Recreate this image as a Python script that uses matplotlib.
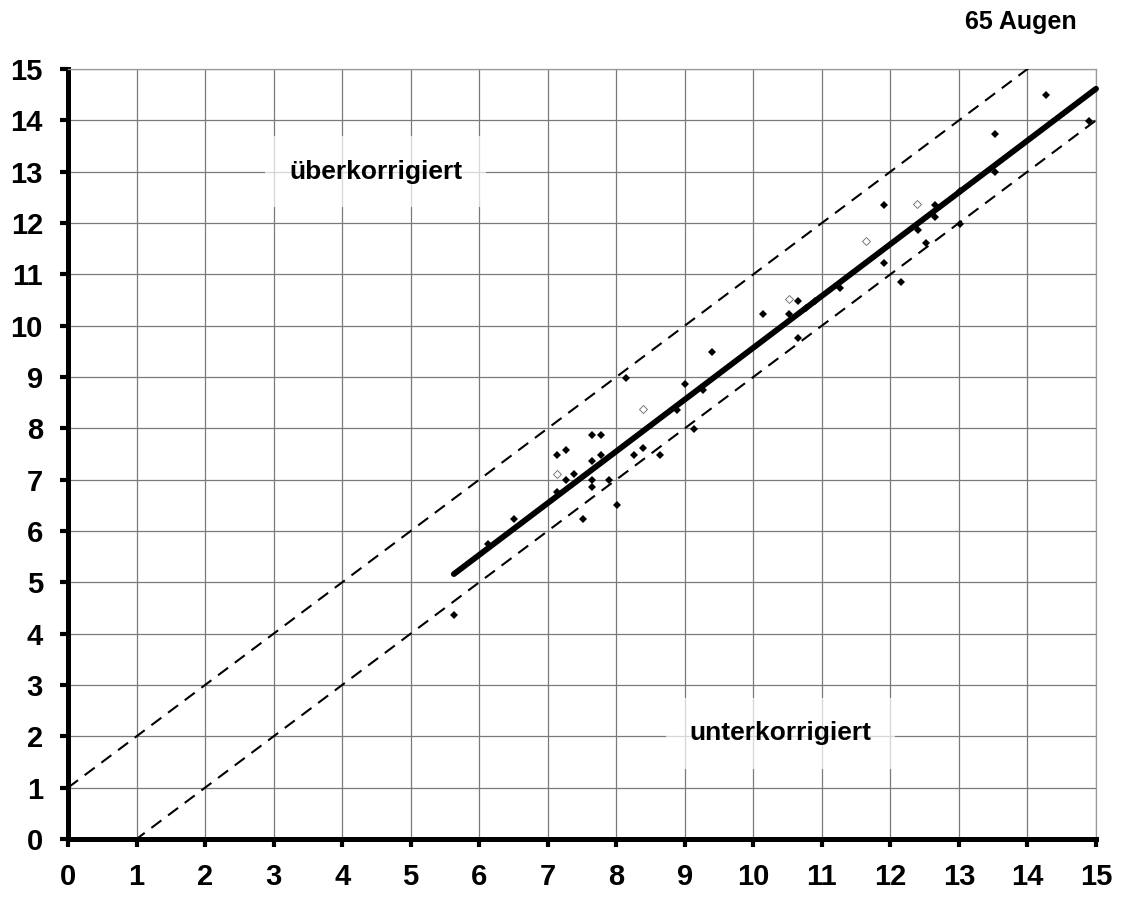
import matplotlib
matplotlib.use('Agg')
from matplotlib import pyplot as plt
import numpy as np

plt.rcParams['font.family'] = ['Liberation Sans', 'DejaVu Sans']
plt.rcParams['font.weight'] = 'bold'

# measured eyes: x = planned correction, y = achieved correction
x_solid = [5.63, 6.13, 6.51, 7.13, 7.26, 7.39, 7.14, 7.27, 7.51, 7.64, 7.77, 7.64,
           7.77, 7.64, 7.64, 7.89, 8.01, 8.14, 8.26, 8.39, 8.64, 8.88, 9.01, 9.14,
           9.26, 9.39, 10.14, 10.52, 10.65, 10.65, 10.77, 10.90, 11.27, 11.90, 11.90,
           12.15, 12.65, 12.40, 12.65, 12.52, 13.02, 13.02, 13.52, 13.52, 14.27, 14.90]
y_solid = [4.36, 5.75, 6.24, 6.76, 7.00, 7.12, 7.49, 7.57, 6.24, 7.87, 7.87, 7.36,
           7.49, 7.00, 6.86, 7.00, 6.50, 8.99, 7.48, 7.61, 7.48, 8.36, 8.86, 7.99,
           8.74, 9.48, 10.23, 10.23, 10.48, 9.75, 10.35, 10.49, 10.73, 12.36, 11.23,
           10.86, 12.36, 11.86, 12.12, 11.62, 12.62, 11.99, 13.73, 12.99, 14.49, 13.99]

# faint (hollow) points
x_faint = [7.13, 8.39, 10.52, 11.64, 12.39]
y_faint = [7.12, 8.37, 10.51, 11.64, 12.37]

# regression line
fit_slope = 1.009
fit_intercept = -0.52
fit_xmin, fit_xmax = 5.63, 15.0

# tolerance band +-1 dpt
band = 1.0

fig = plt.figure(figsize=(11.24, 8.97), dpi=100)
ax = fig.add_axes([68/1124, 1 - 839/897, (1096-68)/1124, (839-69)/897])

ax.set_xlim(0, 15)
ax.set_ylim(0, 15)
ax.set_xticks(range(0, 16))
ax.set_yticks(range(0, 16))
ax.grid(True, color='#7a7a7a', linewidth=0.9, zorder=0)

ax.spines['left'].set_linewidth(3.6)
ax.spines['bottom'].set_linewidth(3.6)
for s in ['top', 'right']:
    ax.spines[s].set_color('#9a9a9a')
    ax.spines[s].set_linewidth(0.9)

ax.tick_params(axis='both', direction='out', length=6, width=3, labelsize=21)
ax.tick_params(axis='x', pad=11)
ax.tick_params(axis='y', pad=12)
for lab in ax.get_xticklabels() + ax.get_yticklabels():
    lab.set_fontweight('bold')

# dashed tolerance lines
xx = np.array([0, 15])
ax.plot(xx, xx + band, color='black', linestyle=(0, (6, 4)), linewidth=1.5, zorder=3)
ax.plot(xx, xx - band, color='black', linestyle=(0, (6, 4)), linewidth=1.5, zorder=3)

# regression line
fx = np.array([fit_xmin, fit_xmax])
ax.plot(fx, fit_slope * fx + fit_intercept, color='black', linewidth=4.2,
        solid_capstyle='round', zorder=4, clip_on=False)

ax.plot(x_solid, y_solid, linestyle='none', marker='D', markersize=4.2,
        color='black', markeredgewidth=0, zorder=5)
ax.plot(x_faint, y_faint, linestyle='none', marker='D', markersize=4.0,
        markerfacecolor='white', markeredgecolor='#666666', markeredgewidth=0.6,
        zorder=5)

ax.text(4.49, 13.0, 'überkorrigiert', fontsize=19, fontweight='bold',
        ha='center', va='center', zorder=6,
        bbox=dict(boxstyle='square,pad=0.9', facecolor='white', alpha=0.7,
                  edgecolor='none'))
ax.text(10.4, 2.06, 'unterkorrigiert', fontsize=19, fontweight='bold',
        ha='center', va='center', zorder=6,
        bbox=dict(boxstyle='square,pad=0.9', facecolor='white', alpha=0.7,
                  edgecolor='none'))

fig.text(1077/1124, 1 - 22/897, '65 Augen', fontsize=18, fontweight='bold',
         ha='right', va='center')

plt.savefig('out.png', dpi=100)
